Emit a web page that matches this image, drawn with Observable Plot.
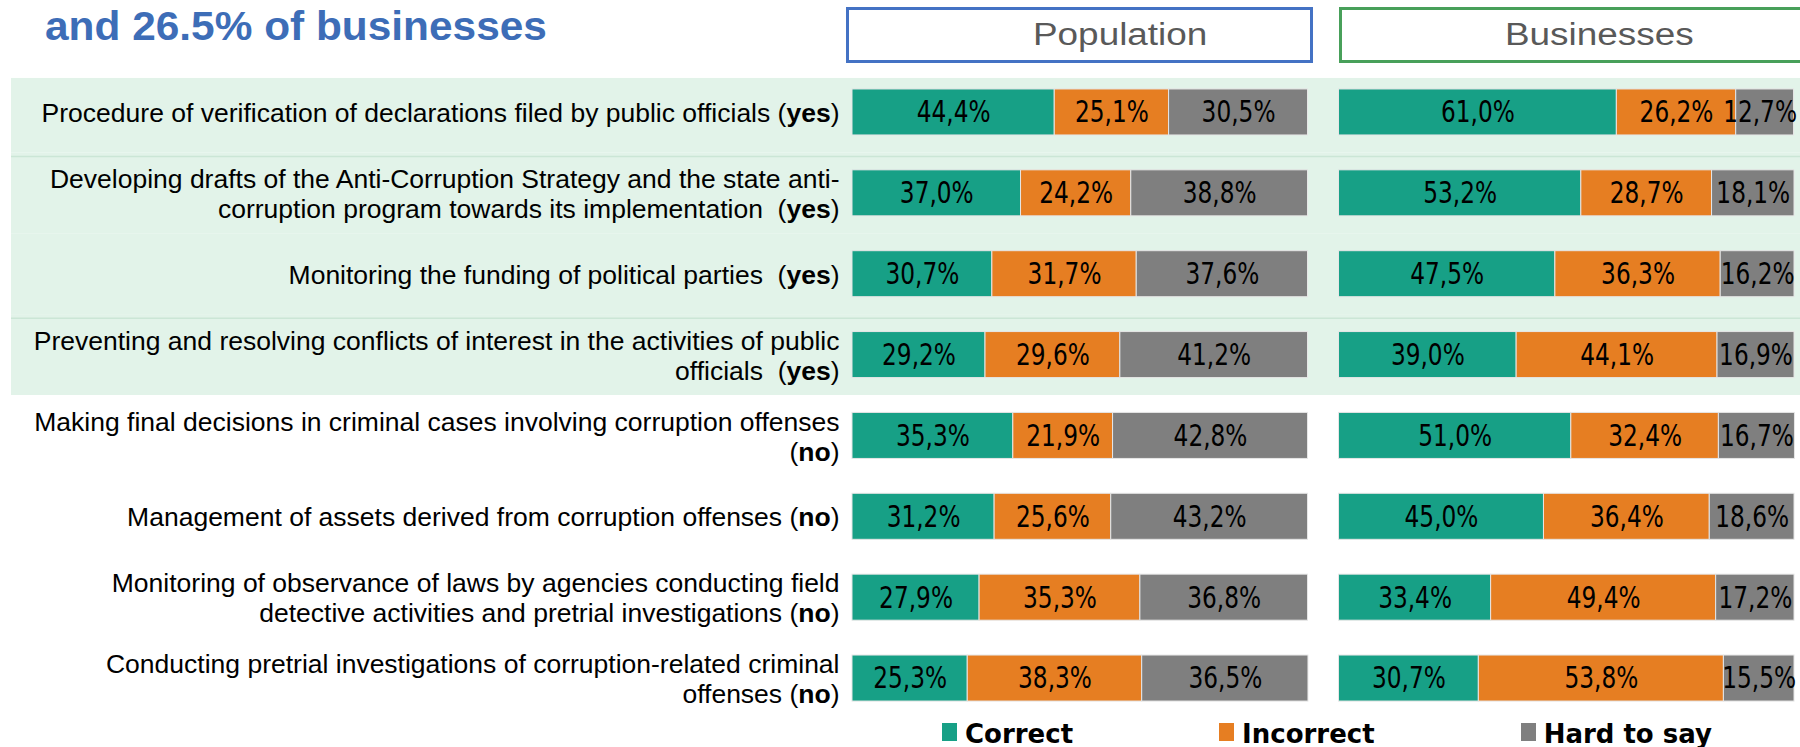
<!DOCTYPE html>
<html>
<head>
<meta charset="utf-8">
<script src="https://cdn.jsdelivr.net/npm/d3@7"></script>
<script src="https://cdn.jsdelivr.net/npm/@observablehq/plot@0.6"></script>
<style>
  html, body { margin: 0; padding: 0; background: #ffffff; }
  #wrap { position: relative; width: 1800px; height: 747px; overflow: hidden; font-family: "Liberation Sans", Arial, sans-serif; }
  #chart svg { display: block; }
  .title { position: absolute; left: 45px; top: 6px; font-size: 40px; line-height: 40px; font-weight: bold; color: #3d6db7; white-space: nowrap; transform: scaleX(1.06); transform-origin: left top; }
  .box { position: absolute; top: 7px; height: 50px; border: 3px solid; box-sizing: content-box; }
  .boxlabel { position: absolute; top: 19px; font-size: 31px; line-height: 31px; color: #595959; white-space: nowrap; transform: scaleX(1.19); transform-origin: left top; }
  #legend { position: absolute; left: 942px; top: 721px; display: flex; gap: 146px; font-family: "DejaVu Sans", Verdana, sans-serif; font-weight: bold; font-size: 26px; line-height: 26px; color: #000; }
  .item { display: flex; align-items: flex-start; }
  .sw { width: 15px; height: 18px; margin-top: 2px; margin-right: 8px; }
</style>
</head>
<body>
<div id="wrap">
  <div id="chart"></div>
  <div class="title">and 26.5% of businesses</div>
  <div class="box" style="left:846px; width:461px; border-color:#4472c4;"></div>
  <div class="box" style="left:1339px; width:500px; border-color:#48a05a;"></div>
  <div class="boxlabel" id="lab0" style="left:1033px;"></div>
  <div class="boxlabel" id="lab1" style="left:1505px;"></div>
  <div id="legend"></div>
</div>
<script>
const categories = [
  "Procedure of verification of declarations filed by public officials (yes)",
  "Developing drafts of the Anti-Corruption Strategy and the state anti-\ncorruption program towards its implementation  (yes)",
  "Monitoring the funding of political parties  (yes)",
  "Preventing and resolving conflicts of interest in the activities of public\nofficials  (yes)",
  "Making final decisions in criminal cases involving corruption offenses\n(no)",
  "Management of assets derived from corruption offenses (no)",
  "Monitoring of observance of laws by agencies conducting field\ndetective activities and pretrial investigations (no)",
  "Conducting pretrial investigations of corruption-related criminal\noffenses (no)"
];
const verdicts = ["yes", "yes", "yes", "yes", "no", "no", "no", "no"];
const separatedRows = [categories[0], categories[2]];
const groups = ["Population", "Businesses"];
const answers = ["Correct", "Incorrect", "Hard to say"];
const colors = ["#17a086", "#e67e22", "#7f7f7f"];

const populationCorrect   = [44.4, 37.0, 30.7, 29.2, 35.3, 31.2, 27.9, 25.3];
const populationIncorrect = [25.1, 24.2, 31.7, 29.6, 21.9, 25.6, 35.3, 38.3];
const populationHard      = [30.5, 38.8, 37.6, 41.2, 42.8, 43.2, 36.8, 36.5];
const businessCorrect     = [61.0, 53.2, 47.5, 39.0, 51.0, 45.0, 33.4, 30.7];
const businessIncorrect   = [26.2, 28.7, 36.3, 44.1, 32.4, 36.4, 49.4, 53.8];
const businessHard        = [12.7, 18.1, 16.2, 16.9, 16.7, 18.6, 17.2, 15.5];

const series = {
  Population: [populationCorrect, populationIncorrect, populationHard],
  Businesses: [businessCorrect, businessIncorrect, businessHard]
};
const rows = [];
groups.forEach(g => categories.forEach((c, i) => answers.forEach((a, j) => {
  rows.push({group: g, category: c, answer: a, value: series[g][j][i]});
})));
const highlighted = categories.filter((c, i) => verdicts[i] === "yes");
const fmt = v => v.toFixed(1).replace(".", ",") + "%";

document.getElementById("lab0").textContent = groups[0];
document.getElementById("lab1").textContent = groups[1];

const step = 80.857, bw = 46, half = (step - bw) / 2;
const bandFill = "#e2f3e9", lineColor = "#cbe6d6";
const firstFacet = () => groups[0];

const plot = Plot.plot({
  width: 1800,
  height: 712,
  marginLeft: 852,
  marginRight: 6,
  marginTop: 0,
  marginBottom: 0,
  style: {fontFamily: "Liberation Sans, Arial, sans-serif", background: "transparent", color: "#000"},
  fx: {domain: groups, axis: null, paddingInner: 0.0637, paddingOuter: 0, round: false},
  x: {domain: [0, 100], axis: null},
  y: {domain: categories, range: [54.1, 735.9], paddingInner: 0.431, paddingOuter: 0.431, round: false, axis: null},
  color: {domain: answers, range: colors},
  marks: [
    Plot.barX(highlighted.slice(0, 1), {
      y: d => d, x1: () => 0, x2: () => 100, fx: firstFacet, fill: bandFill,
      insetTop: -11, insetBottom: -half, insetLeft: -841, insetRight: -492.5
    }),
    Plot.barX(highlighted.slice(1), {
      y: d => d, x1: () => 0, x2: () => 100, fx: firstFacet, fill: bandFill,
      insetTop: -half, insetBottom: -half, insetLeft: -841, insetRight: -492.5
    }),
    Plot.ruleY(separatedRows, {
      y: d => d, fx: firstFacet, dy: 44, stroke: lineColor, strokeWidth: 1.5,
      insetLeft: -841, insetRight: -492.5
    }),
    Plot.ruleX(highlighted.slice(0, 1), {
      x: () => 0, y: d => d, fx: firstFacet, dx: -9, stroke: lineColor, strokeWidth: 1.5,
      insetTop: -11, insetBottom: -half
    }),
    Plot.ruleX(highlighted.slice(1), {
      x: () => 0, y: d => d, fx: firstFacet, dx: -9, stroke: lineColor, strokeWidth: 1.5,
      insetTop: -half, insetBottom: -half
    }),
    Plot.barX(rows, Plot.stackX({
      x: "value", y: "category", fx: "group", fill: "answer",
      stroke: "#e6e6e6", strokeWidth: 1
    })),
    Plot.text(rows, Plot.stackX({
      x: "value", y: "category", fx: "group", z: "answer",
      text: d => fmt(d.value),
      fontFamily: "DejaVu Sans, Verdana, sans-serif",
      fontSize: 31, fill: "#000"
    })),
    Plot.axisY({
      tickSize: 0, tickPadding: 13, fontSize: 26.5, lineHeight: 1.132,
      fontFamily: "Liberation Sans, Arial, sans-serif", fill: "#000", label: null
    })
  ]
});

plot.querySelectorAll('g[aria-label="y-axis tick label"] text').forEach(t => {
  t.style.whiteSpace = "pre";
  const spans = t.querySelectorAll("tspan");
  const targets = spans.length ? Array.from(spans) : [t];
  targets.forEach(el => {
    const m = el.textContent.match(/^(.*\()(yes|no)(\).*)$/);
    if (!m) return;
    el.textContent = "";
    el.append(m[1]);
    const b = document.createElementNS("http://www.w3.org/2000/svg", "tspan");
    b.setAttribute("font-weight", "bold");
    b.textContent = m[2];
    el.append(b, m[3]);
  });
});
document.getElementById("chart").append(plot);

// condense the value labels horizontally, as in the reference,
// and keep the ones in narrow end segments inside the picture
const rightLimit = 1797;
plot.querySelectorAll('g[aria-label="text"] text').forEach(t => {
  const len = t.getComputedTextLength();
  t.setAttribute("textLength", (len * 0.75).toFixed(2));
  t.setAttribute("lengthAdjust", "spacingAndGlyphs");
  const r = t.getBoundingClientRect();
  if (r.right > rightLimit) t.setAttribute("dx", (rightLimit - r.right).toFixed(2));
});

const legend = document.getElementById("legend");
answers.forEach((a, i) => {
  const item = document.createElement("div");
  item.className = "item";
  const sw = document.createElement("div");
  sw.className = "sw";
  sw.style.background = colors[i];
  const lab = document.createElement("span");
  lab.textContent = a;
  item.append(sw, lab);
  legend.append(item);
});
</script>
</body>
</html>
